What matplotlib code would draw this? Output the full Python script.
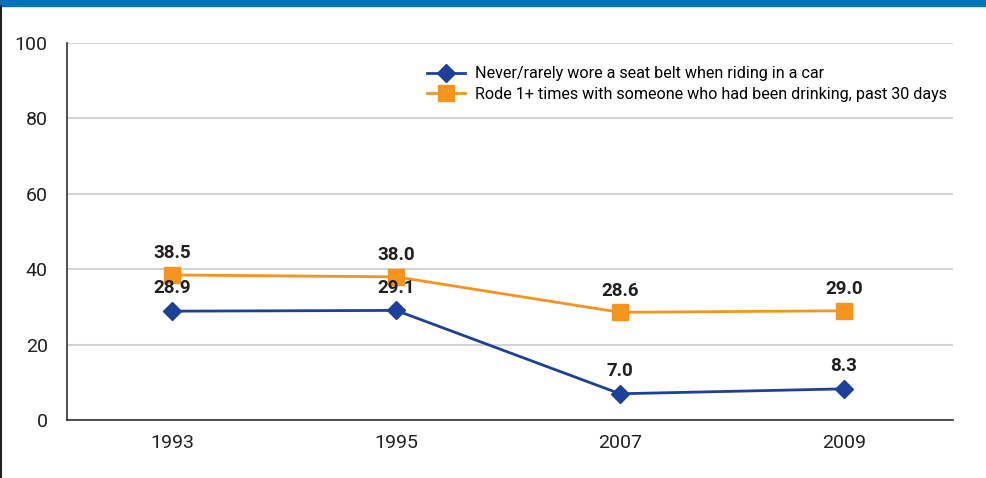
import matplotlib.pyplot as plt
from matplotlib import font_manager

years = ["1993", "1995", "2007", "2009"]
seat_belt = [28.9, 29.1, 7.0, 8.3]
rode_drinking = [38.5, 38.0, 28.6, 29.0]
labels = [
    "Never/rarely wore a seat belt when riding in a car",
    "Rode 1+ times with someone who had been drinking, past 30 days",
]

names = {f.name for f in font_manager.fontManager.ttflist}
fam = [f for f in ["Liberation Sans Narrow", "Roboto", "DejaVu Sans"] if f in names]
plt.rcParams["font.family"] = fam

BLUE = "#1d409a"
ORANGE = "#f7941d"
TXT = "#231f20"

fig = plt.figure(figsize=(9.87, 4.78), dpi=100)
ax = fig.add_axes([0.068, 0.121, 0.898, 0.789])

# blue band across the top and thin rule on the left
fig.patches.append(plt.Rectangle((0, 0.987), 1, 0.013, transform=fig.transFigure,
                                 color="#0072bc", zorder=0))
fig.add_artist(plt.Line2D([0.0015, 0.0015], [0, 0.987], transform=fig.transFigure,
                          color="#222222", lw=1.5))

x = range(len(years))
ax.plot(x, seat_belt, color=BLUE, lw=2, marker="D", ms=9, label=labels[0], zorder=3)
ax.plot(x, rode_drinking, color=ORANGE, lw=2, marker="s", ms=11, label=labels[1], zorder=3)

for i, v in enumerate(seat_belt):
    ax.annotate(f"{v:.1f}", (i, v), xytext=(0, 10), textcoords="offset points",
                ha="center", va="bottom", fontsize=13.5, fontweight="bold", color=TXT)
for i, v in enumerate(rode_drinking):
    ax.annotate(f"{v:.1f}", (i, v), xytext=(0, 9), textcoords="offset points",
                ha="center", va="bottom", fontsize=13.5, fontweight="bold", color=TXT)

ax.set_xlim(-0.47, 3.49)
ax.set_ylim(0, 100)
ax.set_yticks(range(0, 101, 20))
ax.set_xticks(list(x))
ax.set_xticklabels(years)
ax.tick_params(length=0, labelsize=14, colors=TXT)
ax.tick_params(axis="y", pad=14)
ax.tick_params(axis="x", pad=10)
ax.grid(axis="y", color="#d4d4d4", lw=1.5)
ax.set_axisbelow(True)
for s in ["top", "right"]:
    ax.spines[s].set_visible(False)
for s in ["left", "bottom"]:
    ax.spines[s].set_color("#333333")
    ax.spines[s].set_linewidth(1.2)

ax.legend(loc="upper right", bbox_to_anchor=(1.0, 0.955), frameon=False, fontsize=11.6,
          handlelength=2.4, handletextpad=0.6, labelspacing=0.35, borderaxespad=0)

fig.savefig("out.png", dpi=100)
